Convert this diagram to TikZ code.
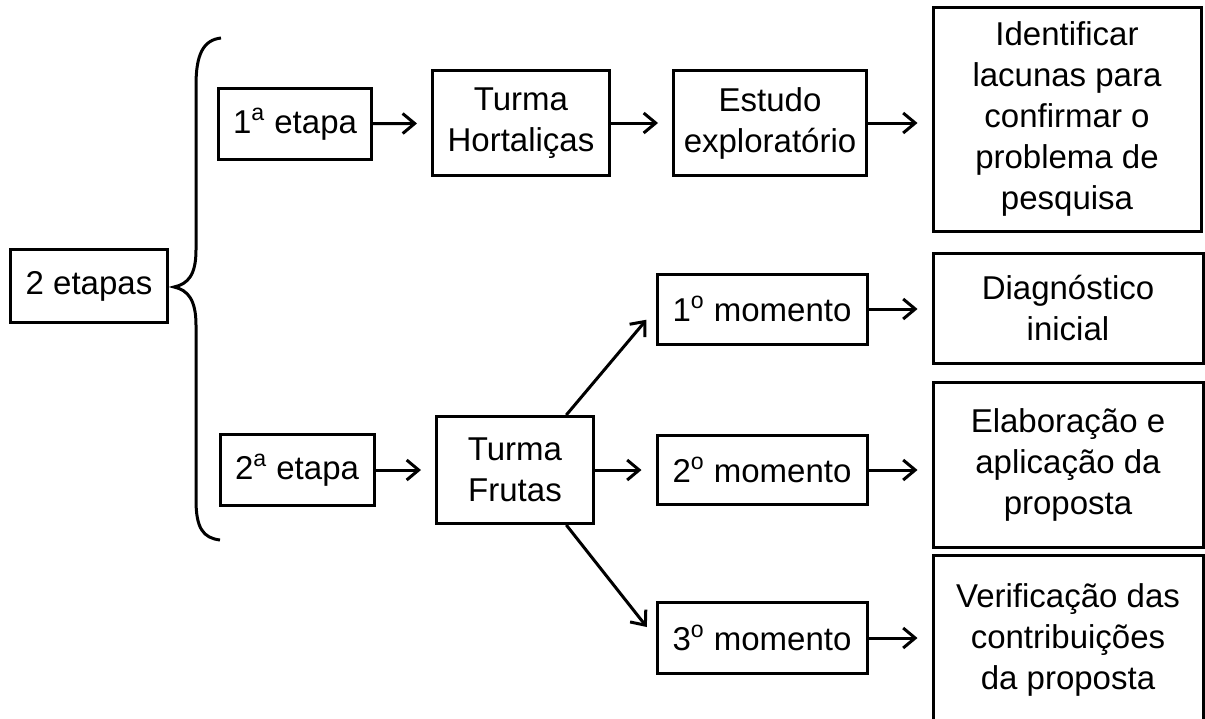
\documentclass[tikz,border=0pt]{standalone}
\usepackage{fontspec}
\setmainfont{Liberation Sans}
\usetikzlibrary{arrows.meta}

\begin{document}
\begin{tikzpicture}[x=0.5pt,y=-0.5pt,
  caixa/.style={draw,line width=1.5pt,align=center,inner sep=1pt,font=\fontsize{16.5}{20.5}\selectfont},
  seta/.style={line width=1.5pt,-{Straight Barb[length=6pt,width=10pt]},shorten >=7pt}]
  \useasboundingbox (0,0) rectangle (1205,718);
  \node[caixa,minimum width=78.5pt,minimum height=36.5pt] (etapas) at (89,286) {2 etapas};
  \node[caixa,minimum width=76.5pt,minimum height=35.5pt] (etapa1) at (295,124) {1\textsuperscript{a} etapa};
  \node[caixa,minimum width=88.5pt,minimum height=52.5pt] (hort) at (521,123) {Turma\\Hortaliças};
  \node[caixa,minimum width=96.5pt,minimum height=52.5pt] (estudo) at (770,123) {Estudo\\exploratório};
  \node[caixa,minimum width=134pt,minimum height=112pt] (ident) at (1067,119) {Identificar\\lacunas para\\confirmar o\\problema de\\pesquisa};
  \node[caixa,minimum width=77pt,minimum height=35.5pt] (etapa2) at (297,470) {2\textsuperscript{a} etapa};
  \node[caixa,minimum width=78.5pt,minimum height=53.5pt] (frutas) at (515,470) {Turma\\Frutas};
  \node[caixa,minimum width=105pt,minimum height=35pt] (mom1) at (762,309) {1\textsuperscript{o} momento};
  \node[caixa,minimum width=105pt,minimum height=34.5pt] (mom2) at (762,470) {2\textsuperscript{o} momento};
  \node[caixa,minimum width=105pt,minimum height=35.5pt] (mom3) at (762,638) {3\textsuperscript{o} momento};
  \node[caixa,minimum width=135pt,minimum height=55pt] (diag) at (1068,308) {Diagnóstico\\inicial};
  \node[caixa,minimum width=135pt,minimum height=82.5pt] (elab) at (1068,465) {Elaboração e\\aplicação da\\proposta};
  \node[caixa,minimum width=135pt,minimum height=85pt] (verif) at (1068,640) {Verificação das\\contribuições\\da proposta};
  \draw[line width=1.5pt] (221,38) .. controls (203,40) and (196,55) .. (196,85) -- (196,250)
    .. controls (196,275) and (188,284) .. (174,287)
    .. controls (188,290) and (196,300) .. (196,325) -- (196,500)
    .. controls (196,528) and (203,538) .. (220,540);
  \draw[seta] (etapa1) -- (hort);
  \draw[seta] (hort) -- (estudo);
  \draw[seta] (estudo.east) -- (estudo.east -| ident.west);
  \draw[seta] (etapa2) -- (frutas);
  \draw[seta] (frutas.47) -- (mom1.west);
  \draw[seta] (frutas) -- (mom2);
  \draw[seta] (frutas.-47) -- (mom3.west);
  \draw[seta] (mom1.east) -- (mom1.east -| diag.west);
  \draw[seta] (mom2.east) -- (mom2.east -| elab.west);
  \draw[seta] (mom3.east) -- (mom3.east -| verif.west);
\end{tikzpicture}
\end{document}
